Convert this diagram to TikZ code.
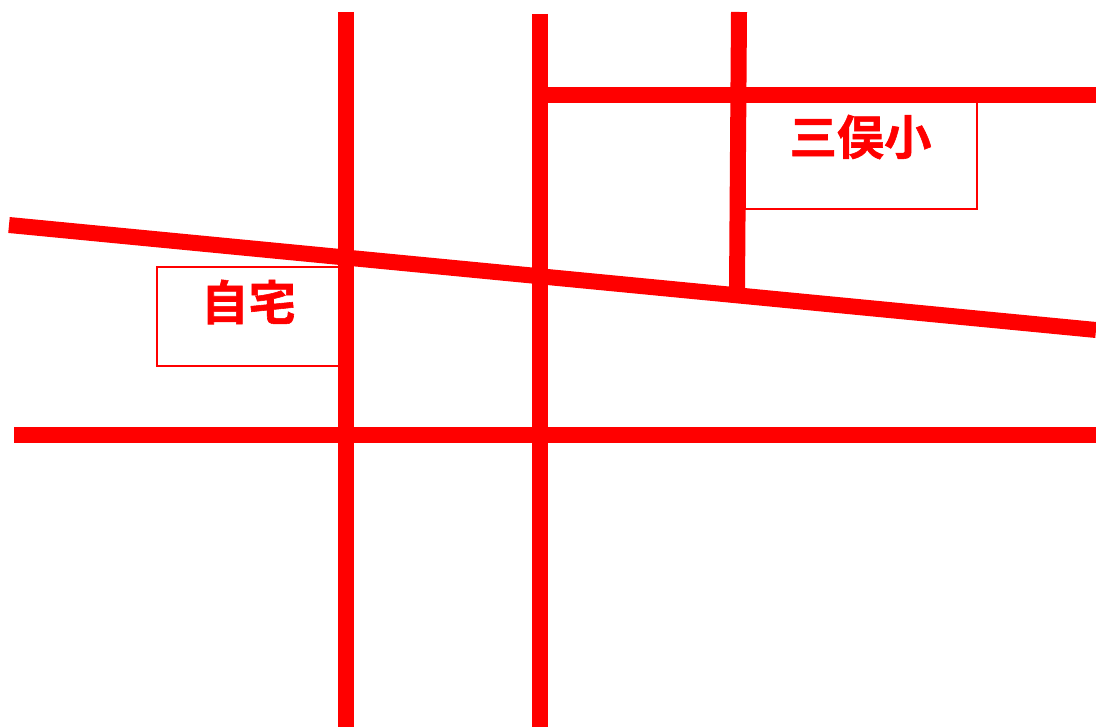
\documentclass[tikz,border=0pt]{standalone}
\usepackage{fontspec}
\newfontfamily\cjk[BoldFont=Noto Sans CJK JP Bold,BoldFeatures={FakeBold=1.2}]{Noto Sans CJK JP}
\tikzset{
  road/.style={draw=roadred,line width=16pt},
  labelbox/.style={draw=roadred,line width=2pt,fill=white},
  placename/.style={text=roadred,font=\cjk\bfseries\fontsize{47.3}{48}\selectfont,inner sep=0pt,anchor=center}
}
\definecolor{roadred}{RGB}{255,0,0}
\begin{document}
\begin{tikzpicture}[x=1pt,y=-1pt]
\useasboundingbox (0,0) rectangle (1096,727);
% label boxes
\draw[labelbox] (745,100) rectangle (977,209.5);
\draw[labelbox] (157,267.5) rectangle (340,366);
\node[placename] (school) at (860.5,137) {三俣小};
\node[placename] (home) at (248.5,302) {自宅};
% road ends
\coordinate (v1t) at (346,12);
\coordinate (v1b) at (346,727);
\coordinate (v2t) at (540,14);
\coordinate (v2b) at (540,727);
\coordinate (v3t) at (739,12);
\coordinate (v3b) at (737,290);
\coordinate (h1l) at (547,95);
\coordinate (h1r) at (1096,95);
\coordinate (dl) at (9,225);
\coordinate (dr) at (1096,330);
\coordinate (h2l) at (14,435);
\coordinate (h2r) at (1096,435);
% roads
\draw[road] (v1t) -- (v1b);
\draw[road] (v2t) -- (v2b);
\draw[road] (v3t) -- (v3b);
\draw[road] (h1l) -- (h1r);
\draw[road] (dl) -- (dr);
\draw[road] (h2l) -- (h2r);
\end{tikzpicture}
\end{document}
